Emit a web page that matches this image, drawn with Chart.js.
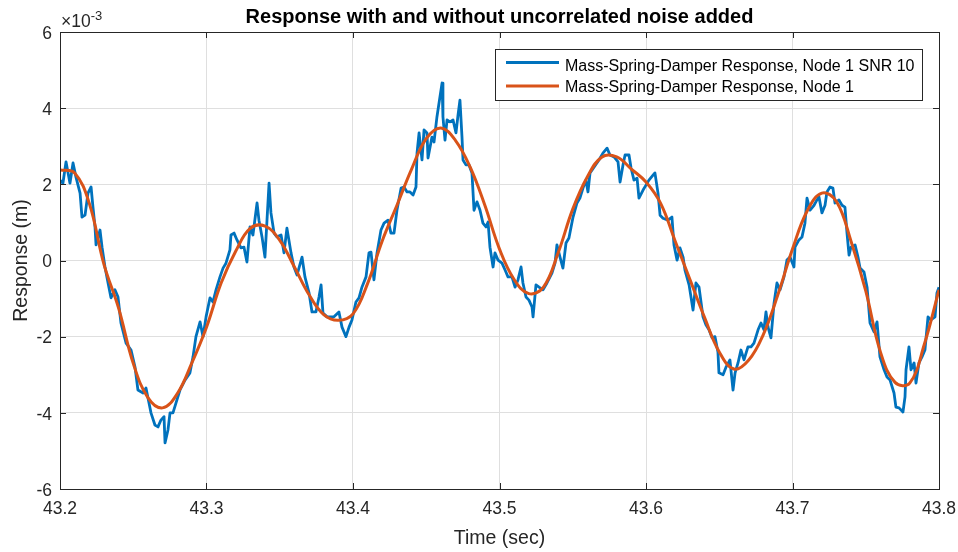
<!DOCTYPE html>
<html>
<head>
<meta charset="utf-8">
<script src="https://cdn.jsdelivr.net/npm/chart.js@4.4.0/dist/chart.umd.min.js"></script>
<style>
html,body{margin:0;padding:0;background:#fff}
#wrap{width:958px;height:552px}
</style>
</head>
<body>
<div id="wrap"><canvas id="chart" width="958" height="552"></canvas></div>
<script>
// time axis starts here (sec), offsets below are in ms
const T0 = 43.2;

// noisy response (SNR 10), x1e-3 m
const noisyMs = [0.0,2.0,4.1,6.8,8.9,10.9,13.7,15.0,17.1,19.1,21.2,22.5,23.9,24.6,27.3,28.7,30.7,32.8,34.8,37.5,
  39.6,41.6,45.1,48.5,51.2,53.2,56.7,58.7,62.1,64.8,66.9,68.9,71.0,71.7,73.7,75.1,77.1,79.2,81.9,85.3,
  88.7,90.8,92.8,95.6,97.6,99.7,102.4,104.4,106.5,109.2,111.3,113.3,116.0,116.7,118.8,120.8,123.5,125.6,127.6,129.7,
  131.7,134.5,135.8,137.9,139.9,141.3,142.7,144.0,146.1,148.1,150.9,152.9,154.9,157.7,159.7,161.8,165.2,167.2,170.0,172.0,
  174.7,176.8,178.2,179.5,182.3,187.0,190.4,192.5,195.2,197.3,199.3,202.0,204.1,206.1,208.9,210.9,212.3,214.3,216.4,219.1,
  221.2,223.9,225.9,228.0,230.0,232.8,234.8,236.9,238.9,241.0,243.0,243.7,245.1,247.1,248.5,250.5,251.2,253.9,255.3,257.3,
  258.7,260.8,261.4,262.8,264.2,266.2,268.3,270.3,271.7,273.0,274.4,275.1,277.1,279.2,281.2,282.6,284.6,286.7,288.7,290.8,
  292.2,293.5,295.6,296.9,299.0,301.7,303.8,305.8,308.5,310.6,312.6,314.7,316.0,318.1,320.1,322.2,322.9,324.9,327.0,329.7,
  332.4,335.8,337.9,339.2,341.3,343.3,345.4,347.4,350.2,352.9,354.9,357.0,359.0,360.4,361.8,364.5,367.9,370.6,373.4,375.4,
  378.2,380.9,382.3,384.3,385.7,388.4,389.8,391.8,393.9,395.2,398.0,400.0,402.0,404.8,406.1,408.2,409.6,411.6,415.0,417.7,
  419.1,421.2,423.2,425.3,426.6,429.4,432.1,434.1,436.2,438.9,440.9,443.0,445.1,447.1,449.1,449.8,452.6,454.6,457.3,459.4,
  460.8,462.8,464.8,466.9,469.6,471.7,473.7,476.5,478.5,480.5,481.9,483.3,485.3,487.4,489.4,491.5,494.2,496.2,498.3,501.0,
  501.7,504.4,506.5,508.5,509.9,512.0,514.7,516.7,518.1,520.1,522.2,523.5,525.6,527.6,529.0,531.7,533.8,535.8,537.2,538.6,
  539.9,542.7,544.7,546.1,548.8,550.9,552.9,555.6,557.7,559.7,562.5,564.5,566.6,569.3,570.6,572.7,575.4,576.8,577.5,579.5,
  580.9,583.0,584.3,586.3,588.4,590.4,592.5,594.5,597.3,598.6,600.0];
const noisyResp = [2.11,2.03,2.59,2.03,2.56,2.19,1.77,1.14,1.19,1.77,1.93,1.40,0.88,0.41,0.80,0.35,-0.17,-0.59,-0.98,-0.77,
  -0.96,-1.64,-2.17,-2.35,-2.80,-3.40,-3.48,-3.35,-4.00,-4.32,-4.37,-4.19,-4.10,-4.79,-4.45,-4.00,-4.00,-3.74,-3.40,-3.14,
  -2.95,-2.53,-2.00,-1.61,-2.00,-1.48,-0.98,-1.09,-0.77,-0.43,-0.20,-0.07,0.28,0.67,0.72,0.54,0.33,0.35,-0.04,0.88,
  0.67,1.51,1.06,0.62,0.09,1.06,2.03,1.25,0.72,0.62,0.67,0.20,0.85,0.20,-0.17,-0.38,0.09,-0.43,-0.85,-1.35,
  -1.35,-0.96,-0.64,-1.38,-1.48,-1.48,-1.35,-1.75,-2.00,-1.75,-1.56,-1.09,-0.98,-0.70,-0.43,0.20,0.22,-0.51,0.20,0.80,
  0.98,1.06,0.72,0.72,1.32,1.90,1.93,1.80,1.80,1.72,1.93,2.82,3.35,2.64,3.43,3.35,2.69,3.24,3.11,3.77,
  4.13,4.66,3.77,3.16,3.69,3.64,3.69,3.35,3.82,4.21,3.24,2.64,2.51,2.51,2.30,1.32,1.54,1.32,0.98,0.88,
  1.01,0.35,-0.17,0.20,0.01,-0.07,-0.25,-0.43,-0.43,-0.70,-0.51,-0.17,-0.59,-0.96,-1.04,-1.22,-1.48,-0.64,-0.70,-0.77,
  -0.59,-0.33,-0.07,0.41,0.09,-0.20,0.46,0.59,1.14,1.51,1.64,1.90,2.11,1.80,2.30,2.45,2.64,2.82,2.95,2.77,
  2.72,2.59,2.06,2.51,2.77,2.77,2.43,2.11,2.16,1.64,1.85,1.98,2.11,2.24,2.30,1.77,1.19,1.11,1.06,1.14,
  0.41,0.01,0.33,0.09,-0.25,-0.64,-1.30,-0.59,-0.70,-1.48,-1.69,-1.82,-2.03,-2.00,-2.40,-2.95,-3.00,-2.80,-2.61,-3.40,
  -2.95,-2.69,-2.35,-2.61,-2.27,-2.27,-2.17,-1.82,-1.64,-1.82,-1.35,-1.75,-2.03,-1.12,-0.59,-0.77,-0.43,0.01,0.09,-0.17,
  0.35,0.54,0.62,0.98,1.64,1.32,1.45,1.59,1.67,1.25,1.45,1.80,1.93,1.90,1.51,1.59,1.45,1.40,0.72,0.14,
  0.35,0.41,0.09,-0.20,-0.30,-0.70,-1.64,-1.87,-1.61,-2.53,-2.87,-3.06,-3.14,-3.48,-3.85,-3.87,-3.98,-3.58,-2.87,-2.27,
  -2.87,-2.69,-3.22,-2.69,-2.53,-2.35,-1.48,-1.56,-1.48,-0.85,-0.70];

// clean response, every 10 ms
const cleanT = [43.20,43.21,43.22,43.23,43.24,43.25,43.26,43.27,43.28,43.29,
  43.30,43.31,43.32,43.33,43.34,43.35,43.36,43.37,43.38,43.39,
  43.40,43.41,43.42,43.43,43.44,43.45,43.46,43.47,43.48,43.49,
  43.50,43.51,43.52,43.53,43.54,43.55,43.56,43.57,43.58,43.59,
  43.60,43.61,43.62,43.63,43.64,43.65,43.66,43.67,43.68,43.69,
  43.70,43.71,43.72,43.73,43.74,43.75,43.76,43.77,43.78,43.79,43.80];
const cleanResp = [2.38,2.30,1.50,-0.10,-1.25,-2.70,-3.60,-3.87,-3.50,-2.69,
  -1.75,-0.59,0.25,0.85,0.90,0.53,-0.17,-0.90,-1.42,-1.57,
  -1.40,-0.60,0.52,1.45,2.40,3.20,3.48,3.15,2.45,1.45,
  0.30,-0.50,-0.87,-0.70,0.20,1.35,2.20,2.72,2.72,2.40,
  2.06,1.50,0.50,-0.50,-1.50,-2.40,-2.85,-2.62,-1.95,-0.90,
  0.30,1.30,1.77,1.55,0.50,-0.80,-2.40,-3.20,-3.22,-2.20,-0.77];

const xTicks = [43.2,43.3,43.4,43.5,43.6,43.7,43.8];
const yTicks = [-6,-4,-2,0,2,4,6];

const seriesNames = ['Mass-Spring-Damper Response, Node 1 SNR 10','Mass-Spring-Damper Response, Node 1'];
const titleText = 'Response with and without uncorrelated noise added';
const xLabel = 'Time (sec)';
const yLabel = 'Response (m)';

const FONT = '"Liberation Sans", Arial, Helvetica, sans-serif';
const AXC = '#262626';
const BLUE = '#0072BD';
const ORANGE = '#D95319';

const noisyPts = noisyMs.map((ms,i)=>({x:T0+ms/1000, y:noisyResp[i]}));
const cleanPts = cleanT.map((t,i)=>({x:t, y:cleanResp[i]}));

const matlabLook = {
  id:'matlabLook',
  afterDraw(chart){
    const ctx = chart.ctx, a = chart.chartArea;
    const xs = chart.scales.x, ys = chart.scales.y;
    ctx.save();
    // inward ticks on all four sides
    ctx.strokeStyle = AXC; ctx.lineWidth = 1;
    ctx.beginPath();
    xTicks.forEach(v=>{
      const p = Math.round(xs.getPixelForValue(v))+0.5;
      ctx.moveTo(p,a.bottom); ctx.lineTo(p,a.bottom-6);
      ctx.moveTo(p,a.top); ctx.lineTo(p,a.top+6);
    });
    yTicks.forEach(v=>{
      const p = Math.round(ys.getPixelForValue(v))+0.5;
      ctx.moveTo(a.left,p); ctx.lineTo(a.left+6,p);
      ctx.moveTo(a.right,p); ctx.lineTo(a.right-6,p);
    });
    ctx.stroke();
    ctx.strokeRect(Math.round(a.left)+0.5, Math.round(a.top)+0.5, Math.round(a.right-a.left), Math.round(a.bottom-a.top));

    // title
    ctx.fillStyle = '#000';
    ctx.font = 'bold 20px '+FONT;
    ctx.textAlign = 'center'; ctx.textBaseline = 'alphabetic';
    ctx.fillText(titleText, (a.left+a.right)/2, 23);

    // axis labels
    ctx.fillStyle = AXC;
    ctx.font = '19.5px '+FONT;
    ctx.fillText(xLabel, (a.left+a.right)/2, 544);
    ctx.save();
    ctx.translate(27, (a.top+a.bottom)/2);
    ctx.rotate(-Math.PI/2);
    ctx.fillText(yLabel, 0, 0);
    ctx.restore();

    // exponent
    ctx.textAlign = 'left';
    ctx.font = '17.5px '+FONT;
    ctx.fillText('\u00d710', a.left+1, 27);
    const w = ctx.measureText('\u00d710').width;
    ctx.font = '13px '+FONT;
    ctx.fillText('-3', a.left+1+w, 20);

    // legend inside top right
    const lx = 495.5, ly = 49.5, lw = 427, lh = 51;
    ctx.fillStyle = '#fff';
    ctx.fillRect(lx, ly, lw, lh);
    ctx.strokeStyle = AXC; ctx.lineWidth = 1;
    ctx.strokeRect(lx, ly, lw, lh);
    const rows = [{c:BLUE, y:62.5, b:70.5},{c:ORANGE, y:86, b:91.5}];
    rows.forEach((r,i)=>{
      ctx.strokeStyle = r.c; ctx.lineWidth = 3.2;
      ctx.beginPath(); ctx.moveTo(506,r.y); ctx.lineTo(559,r.y); ctx.stroke();
      ctx.fillStyle = '#000';
      ctx.font = '16px '+FONT;
      ctx.fillText(seriesNames[i], 565, r.b);
    });
    ctx.restore();
  }
};

new Chart(document.getElementById('chart').getContext('2d'), {
  type:'line',
  data:{
    datasets:[
      {label:seriesNames[1], data:cleanPts, borderColor:ORANGE, borderWidth:3, pointRadius:0, tension:0.4, order:0},
      {label:seriesNames[0], data:noisyPts, borderColor:BLUE, borderWidth:2.8, pointRadius:0, tension:0, borderJoinStyle:'round', order:1}
    ]
  },
  options:{
    responsive:false,
    animation:false,
    devicePixelRatio:1,
    layout:{padding:{left:0, top:32, right:19, bottom:0}},
    plugins:{legend:{display:false}, title:{display:false}, tooltip:{enabled:false}},
    scales:{
      x:{
        type:'linear', min:43.2, max:43.8,
        afterBuildTicks:s=>{ s.ticks = xTicks.map(v=>({value:v})); },
        afterFit:s=>{ s.height = 63; s.paddingLeft = 0; s.paddingRight = 0; },
        ticks:{color:AXC, font:{family:FONT, size:17.5}, padding:10, maxRotation:0, autoSkip:false,
          callback:v=>Number(v).toFixed(1)},
        grid:{color:'#dfdfdf', lineWidth:1, drawTicks:false},
        border:{display:false}
      },
      y:{
        min:-6, max:6,
        afterBuildTicks:s=>{ s.ticks = yTicks.map(v=>({value:v})); },
        afterFit:s=>{ s.width = 60; s.paddingTop = 0; s.paddingBottom = 0; },
        ticks:{color:AXC, font:{family:FONT, size:17.5}, padding:8, labelOffset:2,
          callback:v=>String(v)},
        grid:{color:'#dfdfdf', lineWidth:1, drawTicks:false},
        border:{display:false}
      }
    }
  },
  plugins:[matlabLook]
});
</script>
</body>
</html>
